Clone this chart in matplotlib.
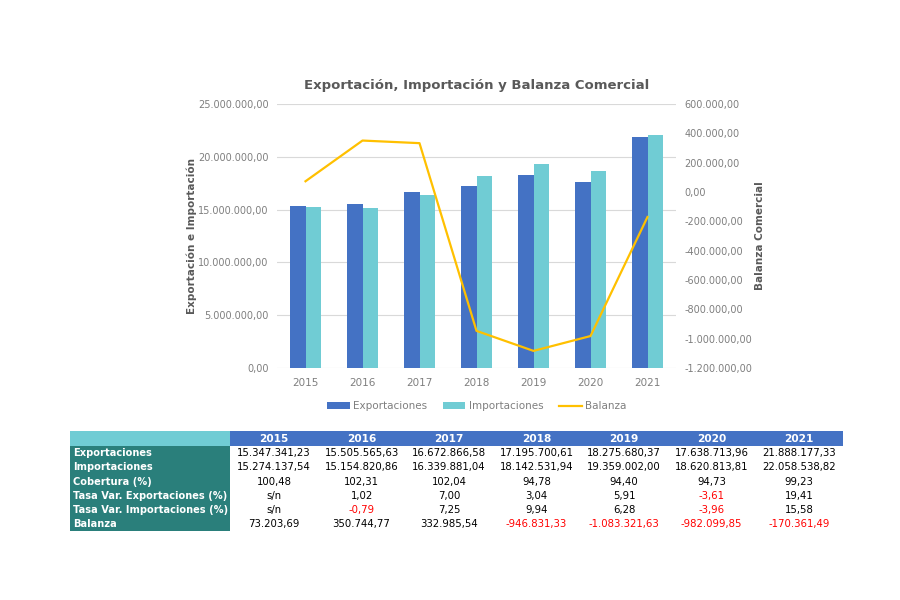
import matplotlib.pyplot as plt
import matplotlib.ticker as mticker
from matplotlib.patches import Rectangle
import numpy as np

years = ["2015", "2016", "2017", "2018", "2019", "2020", "2021"]
exportaciones = [15347341.23, 15505565.63, 16672866.58, 17195700.61, 18275680.37, 17638713.96, 21888177.33]
importaciones = [15274137.54, 15154820.86, 16339881.04, 18142531.94, 19359002.00, 18620813.81, 22058538.82]
cobertura = [100.48, 102.31, 102.04, 94.78, 94.40, 94.73, 99.23]
tasa_exp = [None, 1.02, 7.00, 3.04, 5.91, -3.61, 19.41]
tasa_imp = [None, -0.79, 7.25, 9.94, 6.28, -3.96, 15.58]
balanza = [73203.69, 350744.77, 332985.54, -946831.33, -1083321.63, -982099.85, -170361.49]

row_labels = ["Exportaciones", "Importaciones", "Cobertura (%)",
              "Tasa Var. Exportaciones (%)", "Tasa Var. Importaciones (%)", "Balanza"]
row_values = [exportaciones, importaciones, cobertura, tasa_exp, tasa_imp, balanza]

BLUE = "#4472C4"
TURQ = "#70CCD4"
GOLD = "#FFC000"
TEAL = "#2A7F7B"
GREY_TXT = "#595959"
TICK_TXT = "#7F7F7F"

plt.rcParams["font.family"] = ["DejaVu Sans"]


def fmt_es(v, dec=2):
    s = f"{v:,.{dec}f}"
    return s.replace(",", "X").replace(".", ",").replace("X", ".")


fig = plt.figure(figsize=(9, 6), dpi=100)

# ---- chart ----
ax = fig.add_axes([277 / 900, 1 - 368 / 600, 399 / 900, 264 / 600])
x = np.arange(len(years))
w = 0.27
ax.bar(x - w / 2, exportaciones, width=w, color=BLUE, label="Exportaciones", zorder=2)
ax.bar(x + w / 2, importaciones, width=w, color=TURQ, label="Importaciones", zorder=2)
ax.set_xlim(-0.5, len(years) - 0.5)
ax.set_ylim(0, 25000000)
ax.yaxis.set_major_locator(mticker.MultipleLocator(5000000))
ax.yaxis.set_major_formatter(mticker.FuncFormatter(lambda v, p: fmt_es(v)))
ax.grid(axis="y", color="#D9D9D9", linewidth=0.8, zorder=0)
ax.set_xticks(x)
ax.set_xticklabels(years)
for s in ax.spines.values():
    s.set_visible(False)
ax.tick_params(axis="both", length=0, labelsize=7, labelcolor=TICK_TXT, pad=6)
ax.tick_params(axis="x", labelsize=7.5, pad=7)
ax.set_ylabel("Exportación e Importación", fontsize=7.5, color=GREY_TXT,
              fontweight="bold", labelpad=1)

ax2 = ax.twinx()
ln, = ax2.plot(x, balanza, color=GOLD, linewidth=1.6, label="Balanza", zorder=3)
ax2.set_ylim(-1200000, 600000)
ax2.yaxis.set_major_locator(mticker.MultipleLocator(200000))
ax2.yaxis.set_major_formatter(mticker.FuncFormatter(lambda v, p: fmt_es(v)))
for s in ax2.spines.values():
    s.set_visible(False)
ax2.tick_params(axis="y", length=0, labelsize=7, labelcolor=TICK_TXT, pad=6)
ax2.set_ylabel("Balanza Comercial", fontsize=7.5, color=GREY_TXT,
               fontweight="bold", labelpad=2)

ax.set_title("Exportación, Importación y Balanza Comercial", fontsize=9.5,
             fontweight="bold", color=GREY_TXT, pad=11)

h1, l1 = ax.get_legend_handles_labels()
leg = ax.legend(h1 + [ln], l1 + ["Balanza"], loc="upper center",
                bbox_to_anchor=(0.5, -0.09), ncol=3, frameon=False,
                fontsize=7.5, handlelength=2.2, handleheight=0.6,
                columnspacing=1.5, handletextpad=0.3)
for t in leg.get_texts():
    t.set_color(TICK_TXT)

# ---- table ----
tax = fig.add_axes([70 / 900, 1 - 531 / 600, 773 / 900, 100 / 600])
lab_w = 1.83
n_rows = len(row_labels)
tax.set_xlim(0, lab_w + len(years))
tax.set_ylim(n_rows + 1.08, 0)
tax.axis("off")

tax.add_patch(Rectangle((0, 0), lab_w, 1.08, color=TURQ, lw=0))
tax.add_patch(Rectangle((lab_w, 0), len(years), 1.08, color=BLUE, lw=0))
tax.add_patch(Rectangle((0, 1.08), lab_w, n_rows, color=TEAL, lw=0))
for j, yr in enumerate(years):
    tax.text(lab_w + j + 0.5, 0.56, yr, ha="center", va="center",
             color="white", fontweight="bold", fontsize=7.6)

for i, (lab, vals) in enumerate(zip(row_labels, row_values)):
    yc = 1.08 + i + 0.5
    tax.text(0.03, yc, lab, ha="left", va="center", color="white",
             fontweight="bold", fontsize=7.1)
    for j, v in enumerate(vals):
        if v is None:
            txt, col = "s/n", "black"
        else:
            txt = fmt_es(v)
            col = "#FF0000" if v < 0 else "black"
        tax.text(lab_w + j + 0.5, yc, txt, ha="center", va="center",
                 color=col, fontsize=7.3)

fig.savefig("out.png", dpi=100)
